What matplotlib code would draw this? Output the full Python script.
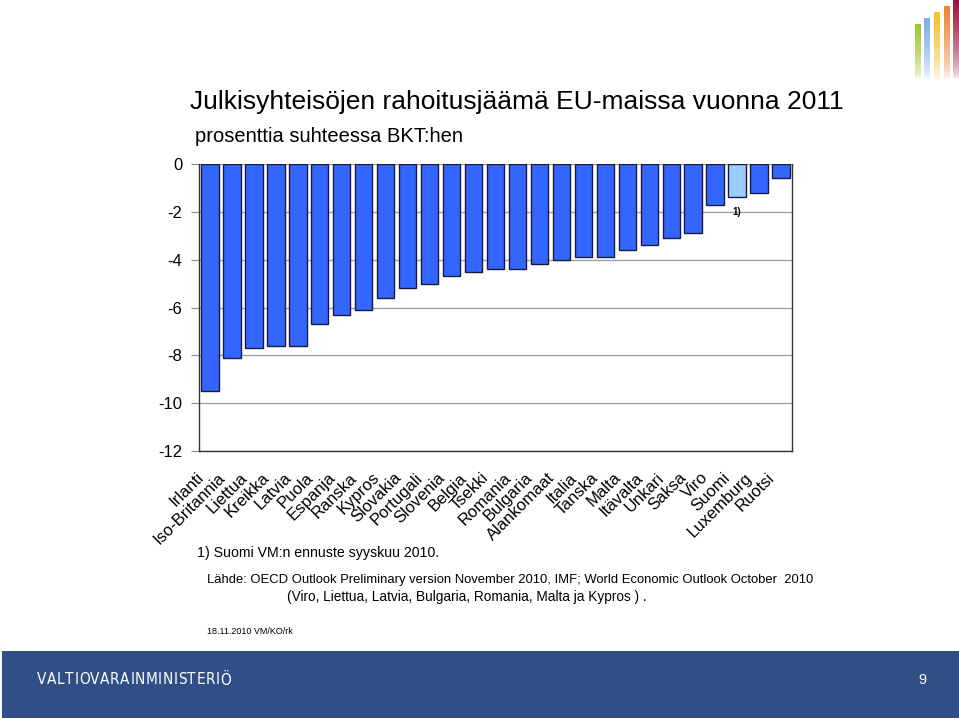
import numpy as np
import matplotlib
matplotlib.use("Agg")
import matplotlib.pyplot as plt
from matplotlib.patches import Rectangle

plt.rcParams['font.family'] = ['Liberation Sans', 'DejaVu Sans']

countries = ["Irlanti", "Iso-Britannia", "Liettua", "Kreikka", "Latvia", "Puola",
             "Espanja", "Ranska", "Kypros", "Slovakia", "Portugali", "Slovenia",
             "Belgia", "Tsekki", "Romania", "Bulgaria", "Alankomaat", "Italia",
             "Tanska", "Malta", "Itävalta", "Unkari", "Saksa", "Viro", "Suomi",
             "Luxemburg", "Ruotsi"]
balance = [-9.5, -8.1, -7.7, -7.6, -7.6, -6.7, -6.3, -6.1, -5.6, -5.2, -5.0, -4.7,
           -4.5, -4.4, -4.4, -4.2, -4.0, -3.9, -3.9, -3.6, -3.4, -3.1, -2.9, -1.7,
           -1.4, -1.2, -0.6]
highlight = "Suomi"
yticks = [0, -2, -4, -6, -8, -10, -12]

W, H = 959, 718
fig = plt.figure(figsize=(W / 100, H / 100), dpi=100)

def fx(px):
    return px / W

def fy(py):
    return 1 - py / H

ax = fig.add_axes([fx(199), fy(451), fx(792) - fx(199), fy(164) - fy(451)])
x = np.arange(len(countries))
colors = ['#99CCFF' if c == highlight else '#3366FF' for c in countries]
ax.bar(x, balance, width=0.79, color=colors, edgecolor='#1A1A40', linewidth=1.0, zorder=3)
ax.set_xlim(-0.5, len(countries) - 0.5)
ax.set_ylim(-12, 0)
ax.set_yticks(yticks)
ax.set_yticklabels([str(v) for v in yticks], fontsize=12)
ax.yaxis.grid(True, color='#A0A0A0', linewidth=1.0, zorder=0)
ax.tick_params(axis='y', length=6, width=0.8, color='#888888', pad=6)
ax.set_xticks([])
for s in ['left', 'bottom', 'right']:
    ax.spines[s].set_color('#333333')
    ax.spines[s].set_linewidth(1.0)
ax.spines['top'].set_visible(False)

for i, c in enumerate(countries):
    ax.annotate(c, xy=(i, -12), xycoords='data', xytext=(-6.5, -17.5),
                textcoords='offset points', rotation=45, rotation_mode='anchor',
                ha='right', va='center', fontsize=12)

si = countries.index(highlight)
ax.annotate("1)", xy=(si, balance[si]), xytext=(0, -7), textcoords='offset points',
            ha='center', va='top', fontsize=7, fontweight='bold')

fig.text(fx(190), fy(102), "Julkisyhteisöjen rahoitusjäämä EU-maissa vuonna 2011",
         fontsize=19, ha='left', va='center')
fig.text(fx(195), fy(136), "prosenttia suhteessa BKT:hen", fontsize=14.5, ha='left', va='center')
fig.text(fx(197), fy(553), "1) Suomi VM:n ennuste syyskuu 2010.", fontsize=10.2, ha='left', va='center')
fig.text(fx(207), fy(580),
         "Lähde: OECD Outlook Preliminary version November 2010, IMF; World Economic Outlook October  2010",
         fontsize=9.4, ha='left', va='center')
fig.text(fx(287), fy(597), "(Viro, Liettua, Latvia, Bulgaria, Romania, Malta ja Kypros ) .",
         fontsize=9.8, ha='left', va='center')
fig.text(fx(207), fy(632), "18.11.2010 VM/KO/rk", fontsize=6.5, ha='left', va='center')

# footer band
fig.patches.append(Rectangle((fx(2), 0), 1 - fx(2), fy(651), transform=fig.transFigure,
                             facecolor='#2F4F86', edgecolor='none'))
brand = "VALTIOVARAINMINISTERIÖ"
renderer = fig.canvas.get_renderer()
letters = []
widths = []
for ch in brand:
    t = fig.text(0, fy(680), ch, fontsize=11, color='white', ha='left', va='center',
                 family='DejaVu Sans', fontstretch='condensed')
    letters.append(t)
    widths.append(t.get_window_extent(renderer).width)
x0_px, x1_px = 37, 231
track = ((x1_px - x0_px) - sum(widths)) / (len(brand) - 1)
pos = x0_px
for t, w in zip(letters, widths):
    t.set_x(fx(pos))
    pos += w + track
fig.text(fx(918), fy(680), "9", fontsize=10.5, color='white', ha='left', va='center')

# logo
lax = fig.add_axes([fx(905), fy(85), fx(959) - fx(905), fy(0) - fy(85)])
logo = [((915, 921), 24, (0.62, 0.78, 0.16)),
        ((924, 930), 18, (0.50, 0.68, 0.90)),
        ((934, 940), 12, (0.96, 0.76, 0.15)),
        ((944, 950), 6, (0.93, 0.52, 0.18)),
        ((953, 959), 0, (0.60, 0.08, 0.25))]
for (x0, x1), top, col in logo:
    n = 64
    tt = np.linspace(0, 1, n)
    a = np.clip(1 - tt, 0, 1) ** 0.6
    img = np.zeros((n, 1, 4))
    img[:, 0, :3] = col
    img[:, 0, 3] = a
    lax.imshow(img, extent=(x0, x1, 80, top), aspect='auto', interpolation='bilinear')
lax.set_xlim(905, 959)
lax.set_ylim(85, 0)
lax.axis('off')

fig.savefig("out.png", dpi=100)
